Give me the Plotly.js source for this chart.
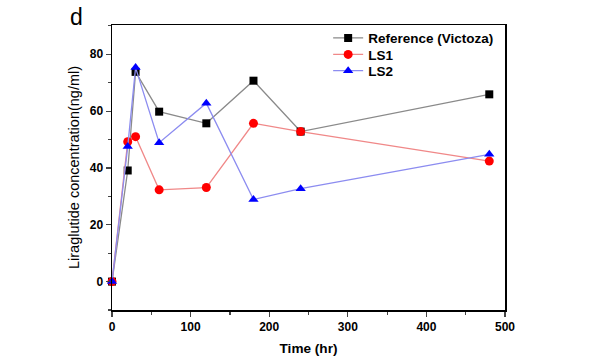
<!DOCTYPE html>
<html>
<head>
<meta charset="utf-8">
<script src="https://cdn.plot.ly/plotly-3.0.1.min.js"></script>
<style>html,body{margin:0;padding:0;background:#fff;}#chart{width:607px;height:364px;}</style>
</head>
<body>
<div id="chart"></div>
<script>
const timeHr = [0, 20, 30, 60, 120, 180, 240, 480];
const refVictoza = [0, 39.1, 73.8, 59.8, 55.7, 70.7, 52.8, 65.9];
const ls1 = [0, 49.2, 51.0, 32.3, 33.1, 55.7, 52.8, 42.4];
const ls2 = [0, 47.5, 75.3, 48.9, 62.8, 28.9, 32.7, 44.8];
const seriesNames = ["Reference (Victoza)", "LS1", "LS2"];

const FONT = "Liberation Sans, Arial, sans-serif";

const traces = [
  {x: timeHr, y: refVictoza, name: seriesNames[0], mode: "lines+markers", legend: "legend",
   line: {color: "#8a8a8a", width: 1.3},
   marker: {symbol: "square", size: 8, color: "#000000"}, cliponaxis: false},
  {x: timeHr, y: ls1, name: seriesNames[1], mode: "lines+markers", legend: "legend2",
   line: {color: "#f08888", width: 1.3},
   marker: {symbol: "circle", size: 9, color: "#ff0000"}, cliponaxis: false},
  {x: timeHr, y: ls2, name: seriesNames[2], mode: "lines+markers", legend: "legend3",
   line: {color: "#8c8cf0", width: 1.3},
   marker: {symbol: "triangle-up", size: 9, color: "#0000ff"}, cliponaxis: false}
];

const legFont = {family: FONT, size: 13.5, color: "#000", weight: "bold"};
function leg(y) {
  return {x: 0.55, y: y, xanchor: "left", yanchor: "middle", bgcolor: "rgba(0,0,0,0)",
          borderwidth: 0, font: legFont, itemwidth: 30};
}

const layout = {
  width: 607, height: 364,
  margin: {l: 112, r: 102, t: 25, b: 54},
  paper_bgcolor: "#ffffff", plot_bgcolor: "#ffffff",
  font: {family: FONT, color: "#000", size: 11, weight: "bold"},
  showlegend: true,
  legend: leg(0.954),
  legend2: leg(0.896),
  legend3: leg(0.839),
  xaxis: {range: [0, 500], tickvals: [0,100,200,300,400,500], ticks: "outside", ticklen: 5, tickwidth: 1.2,
          minor: {dtick: 50, tick0: 0, ticks: "outside", ticklen: 3, tickwidth: 1.2, showgrid: false},
          showline: true, linecolor: "#000", linewidth: 1.5, mirror: true, showgrid: false, zeroline: false,
          tickfont: {family: FONT, size: 12, weight: "bold"},
          title: {text: "Time (hr)", font: {family: FONT, size: 13.6, weight: "bold"}, standoff: 10}},
  yaxis: {range: [-10, 90.3], tickvals: [0,20,40,60,80], ticks: "outside", ticklen: 5, tickwidth: 1.2,
          minor: {dtick: 10, tick0: 0, ticks: "outside", ticklen: 3, tickwidth: 1.2, showgrid: false},
          showline: true, linecolor: "#000", linewidth: 1.5, mirror: true, showgrid: false, zeroline: false,
          tickfont: {family: FONT, size: 12, weight: "bold"},
          title: {text: "Liraglutide concentration(ng/ml)", font: {family: FONT, size: 14.5, weight: "normal"}, standoff: 6}},
  annotations: [{text: "d", xref: "paper", yref: "paper", x: -0.0687, y: 0.975, xanchor: "right", yanchor: "bottom",
                 showarrow: false, font: {family: FONT, size: 23, color: "#000", weight: "normal"}}]
};

Plotly.newPlot("chart", traces, layout, {displayModeBar: false, staticPlot: true});
</script>
</body>
</html>
